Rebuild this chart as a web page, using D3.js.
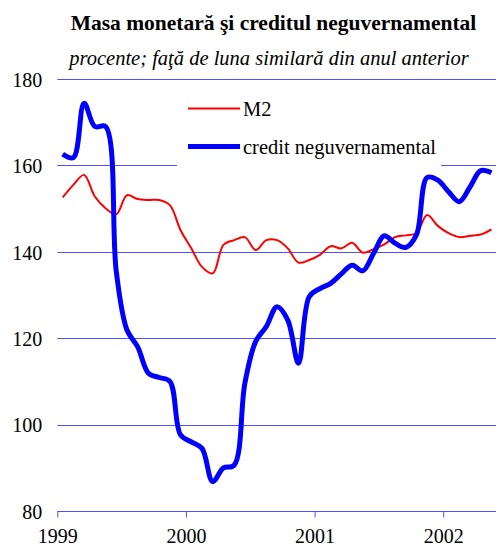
<!DOCTYPE html>
<html>
<head>
<meta charset="utf-8">
<script src="https://cdn.jsdelivr.net/npm/d3@7"></script>
<style>
html,body{margin:0;padding:0;background:#fff;}
svg{display:block;}
</style>
</head>
<body>
<svg id="chart" width="496" height="545" font-family="Liberation Serif"></svg>
<script>
// Monthly data, Jan 1999 - May 2002
const months = d3.range(41);
const m2 = [152.6,155.5,157.8,152.8,150.1,148.7,153.1,152.2,152.0,152.0,150.8,145.0,
            140.8,136.5,135.0,141.6,142.7,143.4,140.4,142.7,142.7,140.8,137.5,138.1,
            139.3,141.3,140.8,142.1,139.8,140.6,141.7,143.4,143.8,144.3,148.5,146.0,
            144.3,143.4,143.7,144.0,145.2];
const credit = [162.6,161.8,174.4,169.0,169.0,135.5,121.9,118.0,111.9,110.9,110.0,97.6,
                96.0,94.5,86.8,90.0,90.6,109.6,119.2,122.7,127.3,124.2,114.2,129.6,
                131.5,132.7,134.9,136.9,135.6,139.6,143.7,142.0,141.0,143.9,157.2,156.6,
                153.9,151.6,155.0,158.8,158.3];
const yearTicks = [0,12,24,36];
const yearLabels = ["1999","2000","2001","2002"];
const yTicks = [80,100,120,140,160,180];
const seriesNames = ["M2","credit neguvernamental"];
const title = "Masa monetară şi creditul neguvernamental";
const subtitle = "procente; faţă de luna similară din anul anterior";

(function(){
const FF = "Liberation Serif";
const svg = d3.select("#chart");
const pL = 57.3, pR = 496.8, pT = 79, pB = 511;
const x = d3.scaleLinear().domain([0, 41]).range([pL, pR]);
const y = d3.scaleLinear().domain([80, 180]).range([pB, pT]);
const gridColor = "#5050ff";

// Title
svg.append("text").attr("x", 273.5).attr("y", 30).attr("text-anchor", "middle")
  .attr("font-family", FF).attr("font-size", 21.5).attr("font-weight", "bold").text(title);
svg.append("text").attr("x", 269).attr("y", 65).attr("text-anchor", "middle")
  .attr("font-family", FF).attr("font-size", 20.5).attr("font-style", "italic").text(subtitle);

// Gridlines
svg.append("g").selectAll("line").data(yTicks.filter(d => d > 80)).join("line")
  .attr("x1", pL).attr("x2", pR)
  .attr("y1", d => Math.round(y(d)) + 0.5).attr("y2", d => Math.round(y(d)) + 0.5)
  .attr("stroke", gridColor).attr("stroke-width", 1);

// Y axis labels
const ya = svg.append("g").attr("transform", `translate(${pL},0)`)
  .call(d3.axisLeft(y).tickValues(yTicks).tickSize(0).tickPadding(15));
ya.attr("font-family", FF).attr("font-size", 20);
ya.select(".domain").remove();
ya.selectAll("text").attr("dy", "0.36em").attr("fill", "#000");

// X axis
const xa = svg.append("g").attr("transform", `translate(0,${Math.round(pB) + 0.5})`)
  .call(d3.axisBottom(x).tickValues(yearTicks).tickFormat((d, i) => yearLabels[i]).tickSize(6).tickSizeOuter(0));
xa.attr("font-family", FF).attr("font-size", 20);
xa.select(".domain").attr("stroke", gridColor).attr("d", `M${pL},0H${pR}`);
xa.selectAll(".tick line").attr("stroke", gridColor);
xa.selectAll("text").attr("y", 0).attr("dy", "31px").attr("fill", "#000");

// Legend background (interrupts gridline)
svg.append("rect").attr("x", 177).attr("y", 86).attr("width", 264).attr("height", 84).attr("fill", "#fff");

// Lines
const line = vals => d3.line()
  .x((d, i) => x(months[i] + 0.5))
  .y(d => y(d))
  .curve(d3.curveCatmullRom.alpha(0.5))(vals);

svg.append("path").attr("d", line(m2)).attr("fill", "none")
  .attr("stroke", "#ff0000").attr("stroke-width", 2);
svg.append("path").attr("d", line(credit)).attr("fill", "none")
  .attr("stroke", "#0000ff").attr("stroke-width", 5).attr("stroke-linejoin", "round");

// Legend
const leg = [{name: seriesNames[0], color: "#ff0000", w: 2, y: 108.5},
             {name: seriesNames[1], color: "#0000ff", w: 5, y: 146.5}];
const lg = svg.append("g");
lg.selectAll("line").data(leg).join("line")
  .attr("x1", 188).attr("x2", 240).attr("y1", d => d.y).attr("y2", d => d.y)
  .attr("stroke", d => d.color).attr("stroke-width", d => d.w);
lg.selectAll("text").data(leg).join("text")
  .attr("x", 243).attr("y", d => d.y + 7).attr("font-family", FF).attr("font-size", 20.5).text(d => d.name);
})();
</script>
</body>
</html>
